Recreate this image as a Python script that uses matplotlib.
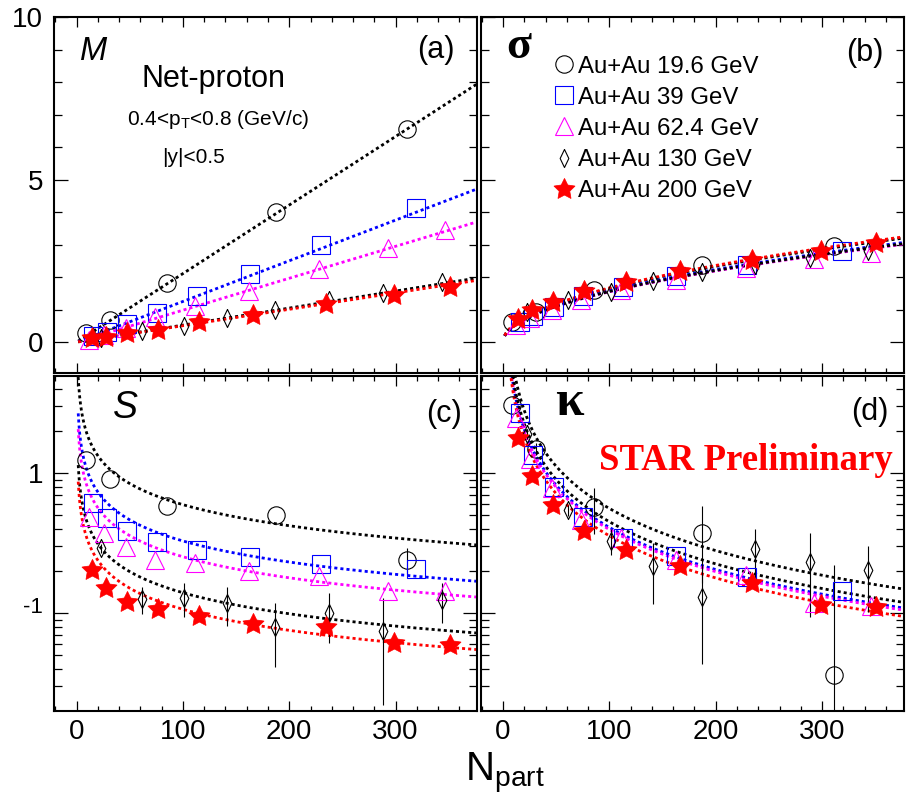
import numpy as np
import matplotlib
matplotlib.use('Agg')
import matplotlib.pyplot as plt
from matplotlib.ticker import MultipleLocator, FixedLocator, NullFormatter

plt.rcParams['font.family'] = ['Liberation Sans', 'DejaVu Sans']
plt.rcParams['mathtext.fontset'] = 'custom'
plt.rcParams['mathtext.rm'] = 'Liberation Sans'
plt.rcParams['mathtext.it'] = 'Liberation Sans:italic'

# ---- data ----
energies = ['19.6', '39', '62.4', '130', '200']
labels = ['Au+Au 19.6 GeV', 'Au+Au 39 GeV', 'Au+Au 62.4 GeV',
          'Au+Au 130 GeV', 'Au+Au 200 GeV']

npart_19 = [8.7, 31.3, 85.2, 187.4, 310.9]
npart_39 = [15.6, 28.2, 47.6, 75.2, 112.8, 163.0, 229.4, 319.1]
npart_62 = [11.9, 25.7, 46.4, 73.6, 111.3, 162.4, 228.2, 292.4, 346.4]
npart_130 = [22.5, 61.1, 101.2, 141.0, 186.8, 237.3, 288.4, 343.2]
npart_200 = [14.1, 27.6, 47.0, 76.1, 115.3, 166.1, 234.5, 298.7, 351.1]

# mean (M)
mean_19 = [0.28, 0.69, 1.82, 3.99, 6.56]
mean_39 = [0.18, 0.32, 0.55, 0.90, 1.43, 2.10, 3.00, 4.13]
mean_62 = [0.08, 0.22, 0.45, 0.78, 1.10, 1.56, 2.25, 2.90, 3.46]
mean_130 = [0.13, 0.33, 0.50, 0.74, 0.98, 1.30, 1.51, 1.84]
mean_200 = [0.12, 0.17, 0.28, 0.38, 0.61, 0.84, 1.18, 1.46, 1.69]

# sigma
sigma_19 = [0.61, 0.94, 1.61, 2.38, 2.95]
sigma_39 = [0.61, 0.79, 1.08, 1.41, 1.71, 2.04, 2.38, 2.79]
sigma_62 = [0.53, 0.74, 1.00, 1.30, 1.61, 1.92, 2.28, 2.56, 2.74]
sigma_130 = [0.92, 1.30, 1.53, 1.89, 2.15, 2.38, 2.59, 2.79]
sigma_200 = [0.71, 1.00, 1.25, 1.56, 1.85, 2.18, 2.52, 2.79, 3.05]

# skewness (S)
skew_19 = [1.245, 0.906, 0.585, 0.499, 0.240]
skew_39 = [0.617, 0.477, 0.389, 0.325, 0.283, 0.254, 0.224, 0.207]
skew_62 = [0.49, 0.373, 0.299, 0.240, 0.228, 0.199, 0.183, 0.143, 0.145]
skew_130 = [0.291, 0.126, 0.129, 0.118, 0.0794, 0.100, 0.0752, 0.125]
skew_200 = [0.204, 0.151, 0.120, 0.107, 0.0957, 0.0839, 0.0803, 0.061, 0.0594]
skew_err_19 = [0, 0, 0, 0, 0.05]
skew_err_130 = [0.02, 0.028, 0.035, 0.037, 0.038, 0.039, 0.053, 0.04]

# kurtosis (kappa)
kurt_19 = [3.08, 1.50, 0.578, 0.373, 0.0362]
kurt_39 = [2.68, 1.35, 0.803, 0.49, 0.343, 0.258, 0.181, 0.143]
kurt_62 = [2.47, 1.26, 0.781, 0.464, 0.343, 0.240, 0.188, 0.118, 0.112]
kurt_130 = [1.90, 0.547, 0.33, 0.216, 0.1315, 0.288, 0.234, 0.202]
kurt_200 = [1.78, 0.957, 0.594, 0.389, 0.283, 0.218, 0.164, 0.115, 0.110]
kurt_err_19 = [0, 0.15, 0.21, 0.21, 0.185]
kurt_err_130 = [0.15, 0.05, 0.07, 0.10, 0.088, 0.11, 0.14, 0.10]

# CLT expectation scale factors (M~N, sigma~sqrt(N), S~1/sqrt(N), kappa~1/N)
clt_mean = [0.0211, 0.01252, 0.00983, 0.00524, 0.00505]
clt_sigma = [0.165, 0.158, 0.155, 0.156, 0.167]
clt_skew = [5.96, 3.28, 2.53, 1.40, 1.066]
clt_kurt = [56.0, 41.0, 39.6, 45.0, 35.7]

npart = [npart_19, npart_39, npart_62, npart_130, npart_200]
moments = {
    'M': ([mean_19, mean_39, mean_62, mean_130, mean_200], clt_mean, 1.0),
    'sigma': ([sigma_19, sigma_39, sigma_62, sigma_130, sigma_200], clt_sigma, 0.5),
    'S': ([skew_19, skew_39, skew_62, skew_130, skew_200], clt_skew, -0.5),
    'kappa': ([kurt_19, kurt_39, kurt_62, kurt_130, kurt_200], clt_kurt, -1.0),
}
errors = {
    'S': {0: skew_err_19, 3: skew_err_130},
    'kappa': {0: kurt_err_19, 3: kurt_err_130},
}

# ---- styles ----
diamond = [(0, 1), (0.48, 0), (0, -1), (-0.48, 0), (0, 1)]
line_colors = ['black', '#0000ff', '#ff00ff', 'black', '#ff0000']
marker_styles = [
    dict(marker='o', ms=12.5, mfc='none', mec='black', mew=0.8),
    dict(marker='s', ms=12.5, mfc='none', mec='#0000ff', mew=0.8),
    dict(marker='^', ms=13, mfc='none', mec='#ff00ff', mew=0.8),
    dict(marker=diamond, ms=13, mfc='none', mec='black', mew=0.8),
    dict(marker=(5, 1, 0), ms=16, mfc='#ff0000', mec='#ff0000', mew=0.5),
]

fig = plt.figure(figsize=(9.11, 7.98), dpi=100)
ax_a = fig.add_axes([0.0596, 0.5330, 0.4645, 0.4454])
ax_b = fig.add_axes([0.5277, 0.5330, 0.4646, 0.4454])
ax_c = fig.add_axes([0.0596, 0.1094, 0.4645, 0.4194])
ax_d = fig.add_axes([0.5277, 0.1094, 0.4646, 0.4194])
panels = {'M': ax_a, 'sigma': ax_b, 'S': ax_c, 'kappa': ax_d}

n_line = np.geomspace(1.5, 377, 400)
handles = {}
for key, ax in panels.items():
    values, coefs, power = moments[key]
    if key in ('S', 'kappa'):
        ax.set_yscale('log')
    # CLT lines
    for i in range(5):
        ax.plot(n_line, coefs[i] * n_line ** power, color=line_colors[i],
                ls=(0, (1.1, 1.1)), lw=2.0, zorder=2)
    # error bars
    for i, err in errors.get(key, {}).items():
        y = np.array(values[i])
        e = np.array(err)
        lo = np.maximum(y - e, 1e-4)
        ax.vlines(npart[i], lo, y + e, color='black', lw=0.8, zorder=3)
    # markers
    for i in range(5):
        h, = ax.plot(npart[i], values[i], ls='none', zorder=4 + i,
                     **marker_styles[i])
        handles[i] = h

for ax in panels.values():
    ax.set_xlim(-21, 377)
    ax.xaxis.set_major_locator(MultipleLocator(100))
    ax.xaxis.set_minor_locator(MultipleLocator(20))
    ax.tick_params(which='both', direction='in', top=True, right=True,
                   width=0.9, labelsize=20)
    ax.tick_params(axis='x', which='major', length=7.2, pad=6)
    ax.tick_params(axis='x', which='minor', length=3.6)
    ax.tick_params(axis='y', which='major', length=10, pad=8)
    ax.tick_params(axis='y', which='minor', length=5.5)
    for sp in ax.spines.values():
        sp.set_linewidth(1.5)

for ax in (ax_a, ax_b):
    ax.set_ylim(-0.94, 10.0)
    ax.yaxis.set_major_locator(MultipleLocator(5))
    ax.yaxis.set_minor_locator(MultipleLocator(1))
    ax.tick_params(labelbottom=False)

minor_log = [k * 10.0 ** e for e in (-2, -1, 0) for k in range(2, 10)]
for ax in (ax_c, ax_d):
    ax.set_ylim(0.0201, 4.95)
    ax.yaxis.set_major_locator(FixedLocator([0.1, 1]))
    ax.yaxis.set_minor_locator(FixedLocator(minor_log))
    ax.yaxis.set_minor_formatter(NullFormatter())

ax_c.set_yticks([0.1, 1], labels=['-1', '1'])
lab = ax_c.get_yticklabels()[0]
lab.set_fontsize(16)
lab.set_va('baseline')

for ax in (ax_b, ax_d):
    ax.tick_params(labelleft=False)

# legend
ax_b.legend([handles[i] for i in range(5)], labels, loc='upper left',
            bbox_to_anchor=(0.174, 0.892), frameon=False, fontsize=17.3,
            handlelength=0.8, handletextpad=0.2, labelspacing=0.38,
            borderpad=0, borderaxespad=0, numpoints=1)

# annotations
ax_a.text(0.061, 0.880, 'M', style='italic', fontsize=23.5, transform=ax_a.transAxes)
ax_a.text(0.947, 0.885, '(a)', fontsize=22, ha='right', transform=ax_a.transAxes)
ax_a.text(0.376, 0.803, 'Net-proton', fontsize=22, ha='center', transform=ax_a.transAxes)
ax_a.text(0.387, 0.697, r'0.4<p$_{\mathrm{T}}$<0.8 (GeV/c)', fontsize=15,
          ha='center', transform=ax_a.transAxes)
ax_a.text(0.330, 0.591, '|y|<0.5', fontsize=15, ha='center', transform=ax_a.transAxes)

serif = ['Liberation Serif', 'DejaVu Serif']
ax_b.text(0.061, 0.885, 'σ', family=serif, weight='bold', fontsize=33,
          transform=ax_b.transAxes)
ax_b.text(0.951, 0.878, '(b)', fontsize=22, ha='right', transform=ax_b.transAxes)

ax_c.text(0.139, 0.874, 'S', style='italic', fontsize=27, transform=ax_c.transAxes)
ax_c.text(0.963, 0.863, '(c)', fontsize=22, ha='right', transform=ax_c.transAxes)

ax_d.text(0.176, 0.884, 'κ', family=serif, weight='bold', fontsize=37,
          transform=ax_d.transAxes)
ax_d.text(0.963, 0.869, '(d)', fontsize=22, ha='right', transform=ax_d.transAxes)
ax_d.text(0.626, 0.719, 'STAR Preliminary', family=serif, weight='bold',
          fontsize=26.5, color='#ff0000', ha='center', transform=ax_d.transAxes)

fig.text(0.510, 0.022, r'N$_{\mathrm{part}}$', fontsize=29)

fig.savefig('out.png', dpi=100)
